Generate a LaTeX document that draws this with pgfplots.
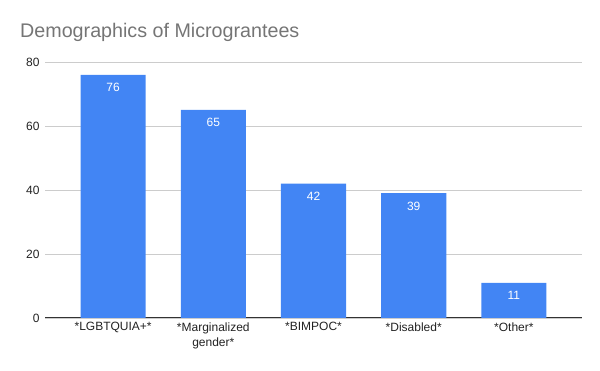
\documentclass[border=0pt]{standalone}
\usepackage{pgfplots}
\pgfplotsset{compat=1.18}
\usepackage{fontspec}
\setmainfont{Liberation Sans}
\definecolor{barblue}{HTML}{4285F4}
\definecolor{gridgray}{HTML}{CCCCCC}
\definecolor{titlegray}{HTML}{757575}
\definecolor{labelgray}{HTML}{222222}
\begin{document}
\begin{tikzpicture}
\path[use as bounding box] (0pt,0pt) rectangle (600pt,371pt);
\node[anchor=base west, text=titlegray, font=\fontsize{19.7}{23}\selectfont, inner sep=0pt] at (20pt,333.5pt) {Demographics of Micrograntees};
\begin{axis}[
  at={(45pt,53pt)}, anchor=south west,
  scale only axis, width=537pt, height=256pt,
  xmin=-0.68, xmax=4.68, ymin=0, ymax=80,
  ytick={0,20,40,60,80},
  xtick=data,
  xticklabels={{*LGBTQUIA+*},{*Marginalized\\gender*},{*BIMPOC*},{*Disabled*},{*Other*}},
  xticklabel style={align=center, font=\fontsize{12}{15}\selectfont, text=labelgray, yshift=-1pt},
  yticklabel style={font=\fontsize{12}{14}\selectfont, text=labelgray, xshift=-2pt},
  /pgf/number format/assume math mode=true,
  major tick length=0pt,
  axis line style={draw=none},
  ymajorgrids, grid style={gridgray, line width=0.8pt},
  extra y ticks={0}, extra y tick labels={},
  extra y tick style={grid style={black!80, line width=1pt}},
  ybar, bar width=0.65,
  nodes near coords,
  every node near coord/.append style={anchor=north, yshift=-5pt, text=white, font=\fontsize{12}{14}\selectfont},
  clip=false,
]
\addplot[fill=barblue, draw=none] coordinates {(0,76) (1,65) (2,42) (3,39) (4,11)};
\end{axis}
\end{tikzpicture}
\end{document}
